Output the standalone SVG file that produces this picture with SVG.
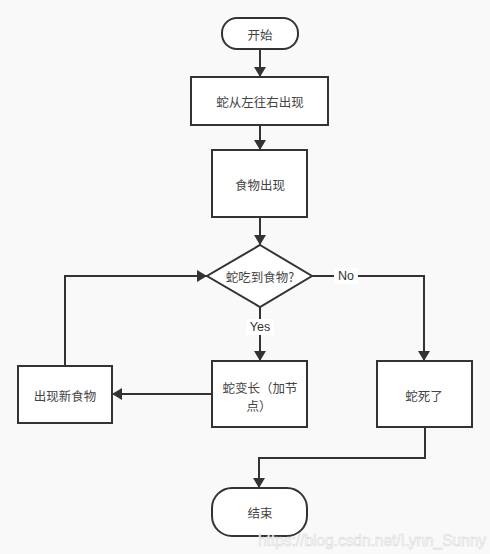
<svg xmlns="http://www.w3.org/2000/svg" width="490" height="554" viewBox="0 0 490 554">
<defs>
<marker id="ah" markerWidth="10" markerHeight="12" refX="10" refY="6" orient="auto" markerUnits="userSpaceOnUse">
<path d="M0,0 L10,6 L0,12 Z" fill="#333"/>
</marker>
<style>
.n{fill:#fff;stroke:#333;stroke-width:2}
.t{font-family:"Noto Sans CJK SC","Liberation Sans",sans-serif;font-size:12.5px;fill:#444;text-anchor:middle;dominant-baseline:central}
.c{fill:none;stroke:#333;stroke-width:2;marker-end:url(#ah)}
.l{font-family:"Liberation Sans","Noto Sans",sans-serif;font-size:12.5px;fill:#333;text-anchor:middle;dominant-baseline:central}
</style>
</defs>
<rect width="490" height="554" fill="#f9f9f9"/>
<g id="connectors">
<path class="c" d="M260,49 V77"/>
<path class="c" d="M260,125 V150"/>
<path class="c" d="M260,217 V245"/>
<path class="c" d="M260,307 V361"/>
<path class="c" d="M312,276 H424 V361"/>
<path class="c" d="M212,394 H112"/>
<path class="c" d="M65,366 V276 H207"/>
<path class="c" d="M425,427 V458 H259 V488"/>
<rect x="246" y="319" width="28" height="16" fill="#fff"/>
<text class="l" x="260" y="327">Yes</text>
<rect x="334" y="268" width="24" height="16" fill="#fff"/>
<text class="l" x="346" y="276">No</text>
</g>
<g id="start"><rect class="n" x="222" y="18" width="76" height="31" rx="15"/><text class="t" x="260" y="34">开始</text></g>
<g id="snake-move"><rect class="n" x="191" y="77" width="137" height="48"/><text class="t" x="260" y="101">蛇从左往右出现</text></g>
<g id="food"><rect class="n" x="212" y="150" width="95" height="67"/><text class="t" x="260" y="184">食物出现</text></g>
<g id="decision"><polygon class="n" points="260,245 312,276 260,307 207,276"/><text class="t" x="260" y="276">蛇吃到食物?</text></g>
<g id="grow"><rect class="n" x="212" y="361" width="95" height="66"/><text class="t" x="260" y="387">蛇变长（加节</text><text class="t" x="259" y="405">点）</text></g>
<g id="newfood"><rect class="n" x="18" y="366" width="94" height="57"/><text class="t" x="65" y="395">出现新食物</text></g>
<g id="dead"><rect class="n" x="377" y="361" width="95" height="66"/><text class="t" x="424" y="395">蛇死了</text></g>
<g id="end"><rect class="n" x="212" y="488" width="95" height="48" rx="20"/><text class="t" x="260" y="512">结束</text></g>
<text x="258" y="546" textLength="228" lengthAdjust="spacingAndGlyphs" style="font-family:'Liberation Sans',sans-serif;font-size:16.5px;fill:#fff;stroke:#d8d8d8;stroke-width:0.6">https://blog.csdn.net/Lynn_Sunny</text>
</svg>
